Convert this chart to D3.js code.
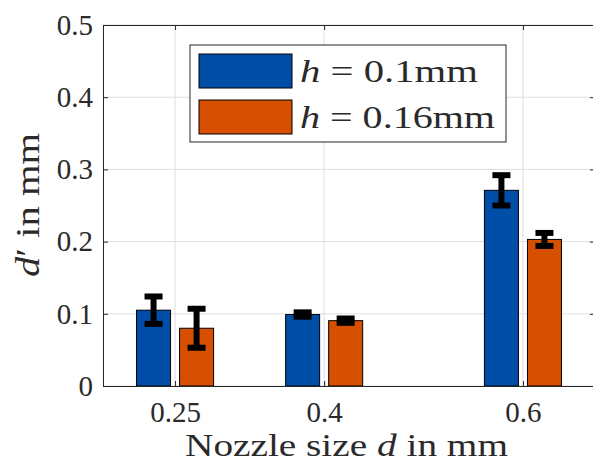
<!DOCTYPE html>
<html>
<head>
<meta charset="utf-8">
<script src="https://cdn.jsdelivr.net/npm/d3@7"></script>
<style>
  body { margin: 0; background: #fff; }
  svg { display: block; font-family: "Liberation Serif", "DejaVu Serif", serif; }
</style>
</head>
<body>
<script>
// nozzle sizes (x categories, numeric)
const nozzle = [0.25, 0.4, 0.6];
const xTickLabels = ["0.25", "0.4", "0.6"];
const yTicks = [0, 0.1, 0.2, 0.3, 0.4, 0.5];

// series: layer height h
const seriesLabels = ["0.1mm", "0.16mm"];
const meanH01 = [0.105, 0.099, 0.271];
const errH01 = [0.019, 0.003, 0.021];
const meanH016 = [0.080, 0.0905, 0.203];
const errH016 = [0.027, 0.003, 0.009];
const seriesColors = ["#004ea8", "#d74f00"];

const width = 593;
const height = 466;
const margin = {top: 25, right: -2, bottom: 80, left: 103};

const svg = d3.select("body")
  .append("svg")
  .attr("width", width)
  .attr("height", height);

const x = d3.scaleLinear()
  .domain([0.1775, 0.6725])
  .range([margin.left, width - margin.right]);

const y = d3.scaleLinear()
  .domain([0, 0.5])
  .range([height - margin.bottom, margin.top]);

// bars within a group
const groupSpan = 0.0775; // in mm on the x axis
const sub = d3.scaleBand()
  .domain([0, 1])
  .range([-(x(groupSpan) - x(0)) / 2, (x(groupSpan) - x(0)) / 2])
  .paddingInner(0.21)
  .paddingOuter(0);

const series = [
  {means: meanH01, errs: errH01},
  {means: meanH016, errs: errH016}
];

// grid
const grid = svg.append("g");
grid.selectAll(".gx").data(nozzle).enter().append("line")
  .attr("x1", d => x(d)).attr("x2", d => x(d))
  .attr("y1", y(0)).attr("y2", y(0.5))
  .attr("stroke", "#dedede").attr("stroke-width", 1);
grid.selectAll(".gy").data(yTicks).enter().append("line")
  .attr("x1", x.range()[0]).attr("x2", x.range()[1])
  .attr("y1", d => y(d)).attr("y2", d => y(d))
  .attr("stroke", "#dedede").attr("stroke-width", 1);

// bars
series.forEach((s, i) => {
  svg.append("g").selectAll("rect").data(nozzle).enter().append("rect")
    .attr("x", d => x(d) + sub(i))
    .attr("y", (d, j) => y(s.means[j]))
    .attr("width", sub.bandwidth())
    .attr("height", (d, j) => y(0) - y(s.means[j]))
    .attr("fill", seriesColors[i])
    .attr("stroke", "#000")
    .attr("stroke-width", 1);
});

// error bars
const capHalf = 9;
series.forEach((s, i) => {
  const g = svg.append("g").attr("stroke", "#000").attr("stroke-width", 6);
  nozzle.forEach((d, j) => {
    const cx = x(d) + sub(i) + sub.bandwidth() / 2;
    const top = y(s.means[j] + s.errs[j]);
    const bot = y(s.means[j] - s.errs[j]);
    g.append("line").attr("x1", cx).attr("x2", cx).attr("y1", top).attr("y2", bot);
    g.append("line").attr("x1", cx - capHalf).attr("x2", cx + capHalf).attr("y1", top).attr("y2", top);
    g.append("line").attr("x1", cx - capHalf).attr("x2", cx + capHalf).attr("y1", bot).attr("y2", bot);
  });
});

// axes box
const axisColor = "#262626";
const xAxisB = d3.axisBottom(x).tickValues(nozzle).tickFormat((d, i) => xTickLabels[i]).tickSizeInner(-5).tickSizeOuter(0).tickPadding(15);
const xAxisT = d3.axisTop(x).tickValues(nozzle).tickFormat("").tickSizeInner(-5).tickSizeOuter(0);
const yAxisL = d3.axisLeft(y).tickValues(yTicks).tickFormat(d => d === 0 ? "0" : d3.format(".1f")(d)).tickSizeInner(-5).tickSizeOuter(0).tickPadding(10);
const yAxisR = d3.axisRight(y).tickValues(yTicks).tickFormat("").tickSizeInner(-5).tickSizeOuter(0);

const styleAxis = g => {
  g.attr("font-size", 29).attr("font-family", "Liberation Serif, serif");
  g.selectAll("path, line").attr("stroke", axisColor).attr("stroke-width", 1);
  g.selectAll("text").attr("fill", "#2a2a2a");
};

svg.append("g").attr("transform", `translate(0,${y(0)})`).call(xAxisB).call(styleAxis);
svg.append("g").attr("transform", `translate(0,${y(0.5)})`).call(xAxisT).call(styleAxis);
svg.append("g").attr("transform", `translate(${x.range()[0]},0)`).call(yAxisL).call(styleAxis);
svg.append("g").attr("transform", `translate(${x.range()[1]},0)`).call(yAxisR).call(styleAxis);

// axis labels
const xl = svg.append("text")
  .attr("x", 185).attr("y", 456)
  .attr("textLength", 323)
  .attr("lengthAdjust", "spacingAndGlyphs")
  .attr("fill", "#2a2a2a")
  .attr("font-size", 31);
xl.append("tspan").text("Nozzle size ");
xl.append("tspan").attr("font-style", "italic").text("d");
xl.append("tspan").text(" in mm");

const yl = svg.append("text")
  .attr("transform", `translate(39,277) rotate(-90)`)
  .attr("textLength", 144)
  .attr("lengthAdjust", "spacingAndGlyphs")
  .attr("fill", "#2a2a2a")
  .attr("font-size", 33);
yl.append("tspan").attr("font-style", "italic").text("d");
yl.append("tspan").text("\u2032 in mm");

// legend
const legendWidths = [178, 195];
const legend = svg.append("g");
legend.append("rect")
  .attr("x", 190).attr("y", 45).attr("width", 316).attr("height", 97)
  .attr("fill", "#fff").attr("stroke", axisColor).attr("stroke-width", 1);
seriesLabels.forEach((lab, i) => {
  const yy = 54 + i * 46;
  legend.append("rect")
    .attr("x", 199).attr("y", yy).attr("width", 93).attr("height", 34)
    .attr("fill", seriesColors[i]).attr("stroke", "#000").attr("stroke-width", 1);
  const t = legend.append("text")
    .attr("x", 300).attr("y", yy + 28)
    .attr("textLength", legendWidths[i])
    .attr("lengthAdjust", "spacingAndGlyphs")
    .attr("fill", "#2a2a2a")
    .attr("font-size", 31);
  t.append("tspan").attr("font-style", "italic").text("h");
  t.append("tspan").text(" = " + lab);
});
</script>
</body>
</html>
